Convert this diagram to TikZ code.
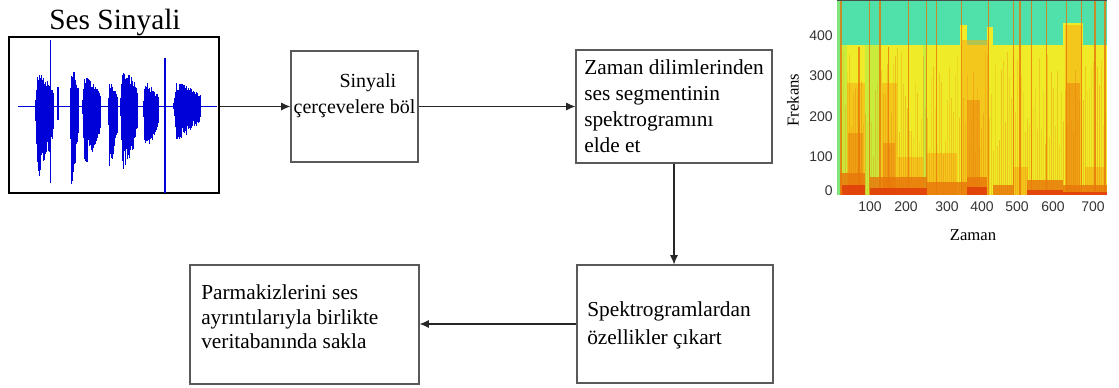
\documentclass[tikz,border=0pt]{standalone}
\usepackage{fontspec}
\setmainfont{Liberation Serif}
\newfontfamily\tickfont{Liberation Sans}
\usetikzlibrary{arrows.meta}

\definecolor{spteal}{RGB}{80,225,170}
\definecolor{spyellow}{RGB}{240,235,40}
\definecolor{spgreen}{RGB}{200,235,60}
\definecolor{sporange}{RGB}{245,175,20}
\definecolor{spdeep}{RGB}{232,118,10}
\definecolor{spred}{RGB}{225,60,10}

\begin{document}
\begin{tikzpicture}[x=0.75pt,y=-0.75pt,
  blok/.style={draw=black!65,line width=0.8pt,inner sep=0pt},
  boxtext/.style={font=\fontsize{16pt}{19.5pt}\selectfont,align=left,inner sep=0pt},
  okok/.style={-{Latex[length=7pt,width=6pt]},line width=0.8pt,black!85},
  wave/.style={blue!85!black,line width=0.6pt},
  spline/.style={spdeep,line width=0.8pt,opacity=0.8},
  tick/.style={font=\tickfont\fontsize{10.5pt}{12pt}\selectfont,text=black!80,inner sep=0pt}]

\useasboundingbox (0,0) rectangle (1119,387);

% audio signal
\node[font=\fontsize{22pt}{26pt}\selectfont,anchor=base] (baslik) at (115,29) {Ses Sinyali};
\node[draw=black,line width=1.3pt,minimum width=157.5pt,minimum height=117pt,inner sep=0pt] (sinyal) at (114,115) {};

\pgfmathsetseed{11}
\draw[wave,line width=0.5pt] (18,106) -- (217,106);
\foreach \a/\b/\u/\d in {35/53/34/75, 70/78/41/84, 82/100/30/59, 108/117/23/62, 120/137/38/66, 143/158/24/47, 173/200/24/34}{
  \pgfmathsetmacro\wvnext{\a+0.5}
  \foreach \xx in {\a,\wvnext,...,\b}{
    \pgfmathsetmacro\wvpos{(\xx-\a)/(\b-\a)}
    \pgfmathsetmacro\wvenv{min(1,\wvpos*8)*(1-0.55*\wvpos*\wvpos)}
    \pgfmathsetmacro\wvtop{106-\u*\wvenv*(0.65+0.35*rnd)}
    \pgfmathsetmacro\wvbot{106+\d*\wvenv*(0.6+0.4*rnd)}
    \draw[wave] (\xx,\wvtop) -- (\xx,\wvbot);
  }
}
% spikes
\draw[wave,line width=1pt] (50.5,40) -- (50.5,183);
\draw[wave,line width=1pt] (58,87) -- (58,120);
\draw[wave,line width=1pt] (109.5,84) -- (109.5,166);
\draw[wave,line width=1.2pt] (165,58) -- (165,193);

% flow boxes
\node[blok,minimum width=95.25pt,minimum height=83.25pt] (bol) at (354.5,106.5) {};
\node[boxtext,align=center,font=\fontsize{15pt}{19.5pt}\selectfont] (bol-t) at (354.5,96) {\hspace*{20pt}Sinyali\\çerçevelere böl};

\node[blok,minimum width=147pt,minimum height=84.75pt] (zaman) at (674,106.5) {};
\node[boxtext,anchor=west] (zaman-t) at (584,106.5) {Zaman dilimlerinden\\ses segmentinin\\spektrogramını\\elde et};

\node[blok,minimum width=147pt,minimum height=88.5pt] (ozellik) at (675,324) {};
\node[boxtext,anchor=west,font=\fontsize{16pt}{21pt}\selectfont] (ozellik-t) at (587,325) {Spektrogramlardan\\özellikler çıkart};

\node[blok,minimum width=171.75pt,minimum height=89.25pt] (sakla) at (304.5,324.5) {};
\node[boxtext,anchor=west,font=\fontsize{16pt}{18.5pt}\selectfont] (sakla-t) at (201,317) {Parmakizlerini ses\\ayrıntılarıyla birlikte\\veritabanında sakla};

\draw[okok] (sinyal.east |- bol.west) -- (bol.west);
\draw[okok] (bol.east) -- (zaman.west);
\draw[okok] (zaman.south) -- (zaman.south |- ozellik.north);
\draw[okok] (ozellik.west) -- (ozellik.west -| sakla.east);

% spectrogram
\begin{scope}[shift={(780,0)},xscale=1/3,yscale=1/3]
\fill[spyellow] (172,2) rectangle (980,585);
\fill[spteal] (172,2) rectangle (980,135);
\fill[spgreen] (172,135) rectangle (200,585);
\fill[spteal!60!spgreen] (172,2) rectangle (180,585);
\fill[spgreen] (255,135) rectangle (300,585);
\fill[spgreen] (430,135) rectangle (442,585);
\foreach \xa/\xb/\ya in {540/560/75, 620/640/80, 850/910/70}
  \fill[spyellow] (\xa,\ya) rectangle (\xb,135);
\foreach \xa/\xb/\ya in {200/255/250, 305/350/250, 355/430/470, 440/530/460, 545/625/120, 700/745/500, 855/905/75, 915/975/500}
  \fill[sporange,opacity=0.6] (\xa,\ya) rectangle (\xb,585);
\foreach \xa/\xb/\ya in {205/250/400, 310/345/430, 560/600/300, 860/900/250}
  \fill[spdeep,opacity=0.45] (\xa,\ya) rectangle (\xb,585);
% fine streaks
\pgfmathsetseed{5}
\foreach \xv in {184,190,...,978}{
  \pgfmathsetmacro\spy{140+rnd*330}
  \pgfmathsetmacro\spo{0.12+0.25*rnd}
  \draw[spdeep,line width=0.5pt,opacity=\spo] (\xv,\spy) -- (\xv,585);
}
\foreach \xv/\yv in {183/2, 237/140, 268/2, 300/2, 325/140, 385/2, 440/2, 470/2, 545/2, 625/2, 700/2, 720/2, 755/2, 800/2, 860/2, 905/2, 945/2, 975/2}
  \draw[spline] (\xv,\yv) -- (\xv,585);
\foreach \xa/\xb/\ya in {180/255/520, 270/440/530, 440/560/545, 560/620/530, 640/700/555, 740/850/540, 850/980/555}
  \fill[spdeep,opacity=0.8] (\xa,\ya) rectangle (\xb,585);
\foreach \xa/\xb/\ya in {185/255/555, 270/440/565, 560/620/560, 740/850/570, 850/980/575}
  \fill[spred,opacity=0.85] (\xa,\ya) rectangle (\xb,585);
\draw[black!70,line width=0.5pt] (172,2) -- (980,2);
\end{scope}

\foreach \v/\yy in {400/36, 300/76, 200/117, 100/157, 0/191}
  \node[tick,anchor=east] (yt\v) at (833,\yy) {\v};
\foreach \v/\xx in {100/870, 200/906, 300/947, 400/982, 500/1017, 600/1053, 700/1093}
  \node[tick] (xt\v) at (\xx,207) {\v};
\node[font=\fontsize{12.5pt}{14pt}\selectfont] (zaman-ek) at (973,235) {Zaman};
\node[font=\fontsize{12.5pt}{14pt}\selectfont,rotate=90] (frekans) at (793,100) {Frekans};

\end{tikzpicture}
\end{document}
